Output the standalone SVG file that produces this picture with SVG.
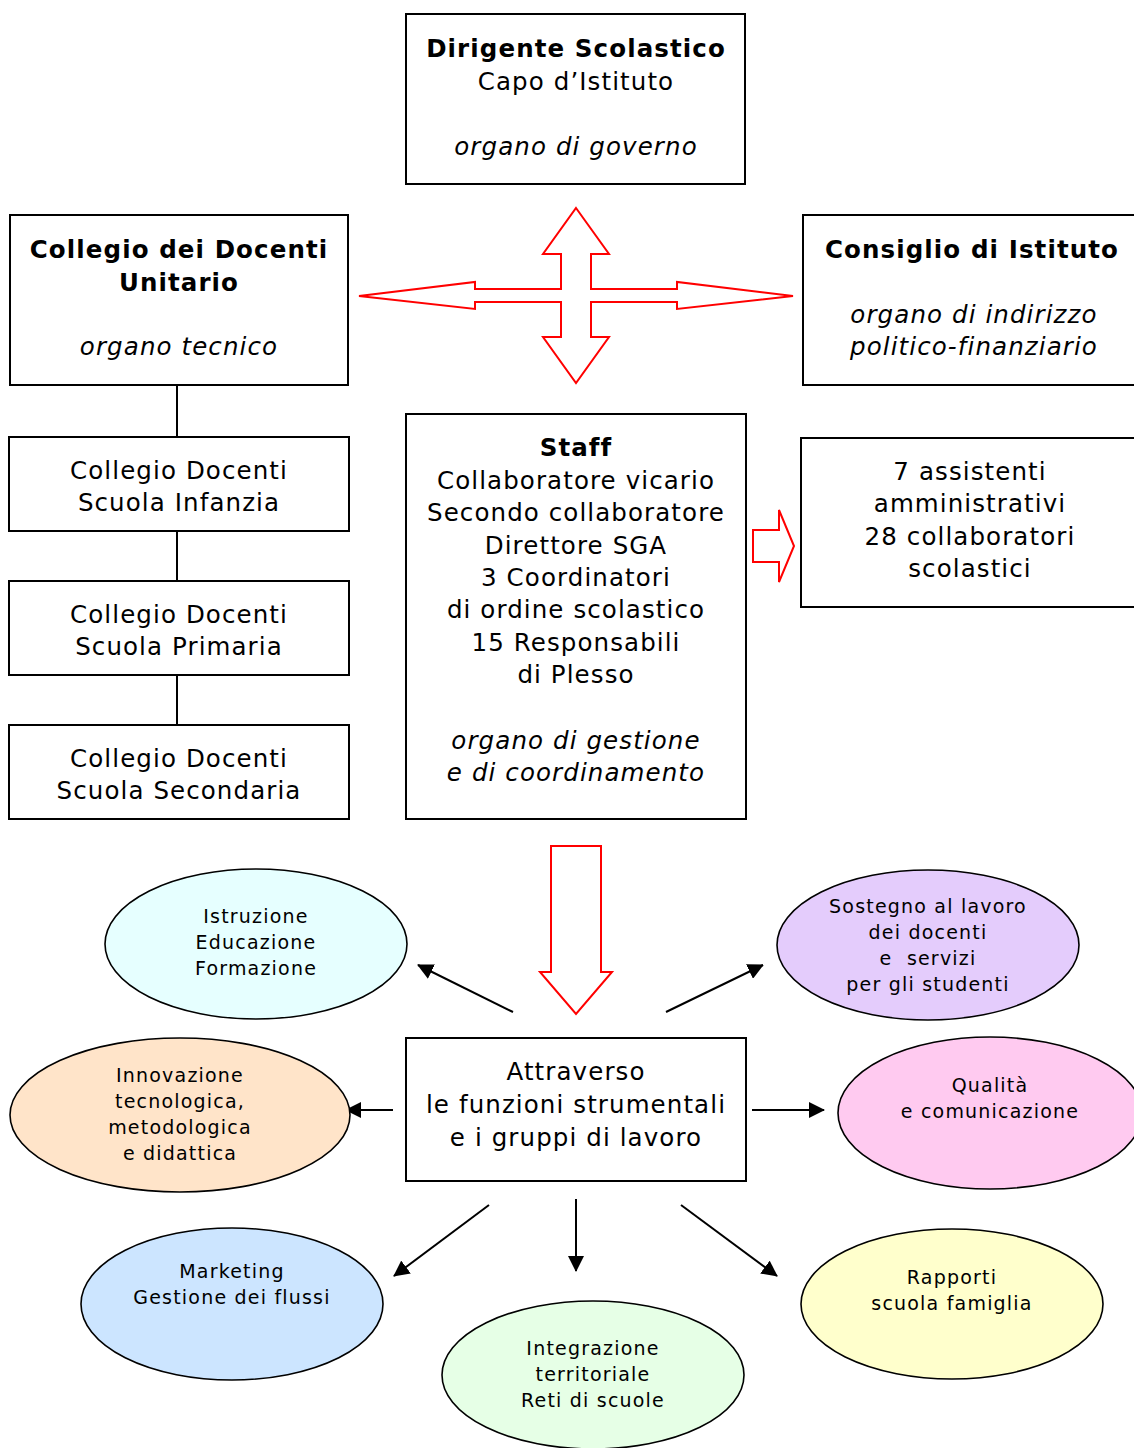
<svg xmlns="http://www.w3.org/2000/svg" width="1134" height="1448" viewBox="0 0 1134 1448">
<style>
text{font-family:"DejaVu Sans","Liberation Sans",sans-serif;fill:#000;text-anchor:middle}
.t{font-size:24.5px;letter-spacing:1.1px}
.b{font-weight:bold}
.i{font-style:italic}
.e{font-size:19px;letter-spacing:1.2px}
.box{fill:#fff;stroke:#000;stroke-width:2}
.ell{stroke:#000;stroke-width:1.6}
.red{fill:#fff;stroke:#f00;stroke-width:2;stroke-linejoin:miter}
.con{stroke:#000;stroke-width:2;fill:none}
</style>
<defs>
<marker id="ahl" markerWidth="16" markerHeight="16" refX="15" refY="8" orient="auto" markerUnits="userSpaceOnUse" viewBox="0 0 16 16">
<path d="M0,0 L16,8 L0,16 Z" fill="#000"/>
</marker>
</defs>

<g id="connectors">
<line class="con" x1="177" y1="385" x2="177" y2="437"/>
<line class="con" x1="177" y1="531" x2="177" y2="581"/>
<line class="con" x1="177" y1="675" x2="177" y2="725"/>
<path class="red" d="M576,208 L609,254 L591,254 L591,289 L677,289 L677,282 L793,296 L677,309 L677,302 L591,302 L591,337 L609,337 L576,383 L543,337 L561,337 L561,302 L475,302 L475,309 L359,296 L475,282 L475,289 L561,289 L561,254 L543,254 Z"/>
<path class="red" d="M753,530 L779,530 L779,510 L794,546 L779,582 L779,562 L753,562 Z"/>
<path class="red" d="M551,846 L601,846 L601,972 L612,972 L576,1014 L540,972 L551,972 Z"/>
<line class="con" x1="513" y1="1012" x2="418" y2="965" marker-end="url(#ahl)"/>
<line class="con" x1="666" y1="1012" x2="763" y2="965" marker-end="url(#ahl)"/>
<line class="con" x1="393" y1="1110" x2="346" y2="1110" marker-end="url(#ahl)"/>
<line class="con" x1="752" y1="1110" x2="824" y2="1110" marker-end="url(#ahl)"/>
<line class="con" x1="489" y1="1205" x2="394" y2="1276" marker-end="url(#ahl)"/>
<line class="con" x1="576" y1="1199" x2="576" y2="1271" marker-end="url(#ahl)"/>
<line class="con" x1="681" y1="1205" x2="777" y2="1276" marker-end="url(#ahl)"/>
</g>

<g id="dirigente">
<rect class="box" x="406" y="14" width="339" height="170"/>
<text class="t b" x="576" y="57">Dirigente Scolastico</text>
<text class="t" x="576" y="90">Capo d’Istituto</text>
<text class="t i" x="576" y="155">organo di governo</text>
</g>

<g id="collegio-unitario">
<rect class="box" x="10" y="215" width="338" height="170"/>
<text class="t b" x="179" y="258">Collegio dei Docenti</text>
<text class="t b" x="179" y="291">Unitario</text>
<text class="t i" x="179" y="355">organo tecnico</text>
</g>

<g id="consiglio">
<rect class="box" x="803" y="215" width="340" height="170"/>
<text class="t b" x="972" y="258">Consiglio di Istituto</text>
<text class="t i" x="974" y="323">organo di indirizzo</text>
<text class="t i" x="974" y="355">politico-finanziario</text>
</g>

<g id="infanzia">
<rect class="box" x="9" y="437" width="340" height="94"/>
<text class="t" x="179" y="479">Collegio Docenti</text>
<text class="t" x="179" y="511">Scuola Infanzia</text>
</g>

<g id="primaria">
<rect class="box" x="9" y="581" width="340" height="94"/>
<text class="t" x="179" y="623">Collegio Docenti</text>
<text class="t" x="179" y="655">Scuola Primaria</text>
</g>

<g id="secondaria">
<rect class="box" x="9" y="725" width="340" height="94"/>
<text class="t" x="179" y="767">Collegio Docenti</text>
<text class="t" x="179" y="799">Scuola Secondaria</text>
</g>

<g id="staff">
<rect class="box" x="406" y="414" width="340" height="405"/>
<text class="t b" x="576" y="456">Staff</text>
<text class="t" x="576" y="489">Collaboratore vicario</text>
<text class="t" x="576" y="521">Secondo collaboratore</text>
<text class="t" x="576" y="554">Direttore SGA</text>
<text class="t" x="576" y="586">3 Coordinatori</text>
<text class="t" x="576" y="618">di ordine scolastico</text>
<text class="t" x="576" y="651">15 Responsabili</text>
<text class="t" x="576" y="683">di Plesso</text>
<text class="t i" x="576" y="749">organo di gestione</text>
<text class="t i" x="576" y="781">e di coordinamento</text>
</g>

<g id="assistenti">
<rect class="box" x="801" y="438" width="342" height="169"/>
<text class="t" x="970" y="480">7 assistenti</text>
<text class="t" x="970" y="512">amministrativi</text>
<text class="t" x="970" y="545">28 collaboratori</text>
<text class="t" x="970" y="577">scolastici</text>
</g>

<g id="attraverso">
<rect class="box" x="406" y="1038" width="340" height="143"/>
<text class="t" x="576" y="1080">Attraverso</text>
<text class="t" x="576" y="1113">le funzioni strumentali</text>
<text class="t" x="576" y="1146">e i gruppi di lavoro</text>
</g>

<g id="istruzione">
<ellipse class="ell" cx="256" cy="944" rx="151" ry="75" fill="#e6ffff"/>
<text class="e" x="256" y="923">Istruzione</text>
<text class="e" x="256" y="949">Educazione</text>
<text class="e" x="256" y="975">Formazione</text>
</g>

<g id="sostegno">
<ellipse class="ell" cx="928" cy="945" rx="151" ry="75" fill="#e4ccfc"/>
<text class="e" x="928" y="913">Sostegno al lavoro</text>
<text class="e" x="928" y="939">dei docenti</text>
<text class="e" x="928" y="965" xml:space="preserve">e  servizi</text>
<text class="e" x="928" y="991">per gli studenti</text>
</g>

<g id="innovazione">
<ellipse class="ell" cx="180" cy="1115" rx="170" ry="77" fill="#ffe4c9"/>
<text class="e" x="180" y="1082">Innovazione</text>
<text class="e" x="180" y="1108">tecnologica,</text>
<text class="e" x="180" y="1134">metodologica</text>
<text class="e" x="180" y="1160">e didattica</text>
</g>

<g id="qualita">
<ellipse class="ell" cx="990" cy="1113" rx="152" ry="76" fill="#ffcaf0"/>
<text class="e" x="990" y="1092">Qualità</text>
<text class="e" x="990" y="1118">e comunicazione</text>
</g>

<g id="marketing">
<ellipse class="ell" cx="232" cy="1304" rx="151" ry="76" fill="#cce5ff"/>
<text class="e" x="232" y="1278">Marketing</text>
<text class="e" x="232" y="1304">Gestione dei flussi</text>
</g>

<g id="integrazione">
<ellipse class="ell" cx="593" cy="1375" rx="151" ry="74" fill="#e6ffe6"/>
<text class="e" x="593" y="1355">Integrazione</text>
<text class="e" x="593" y="1381">territoriale</text>
<text class="e" x="593" y="1407">Reti di scuole</text>
</g>

<g id="rapporti">
<ellipse class="ell" cx="952" cy="1304" rx="151" ry="75" fill="#ffffcc"/>
<text class="e" x="952" y="1284">Rapporti</text>
<text class="e" x="952" y="1310">scuola famiglia</text>
</g>
</svg>
